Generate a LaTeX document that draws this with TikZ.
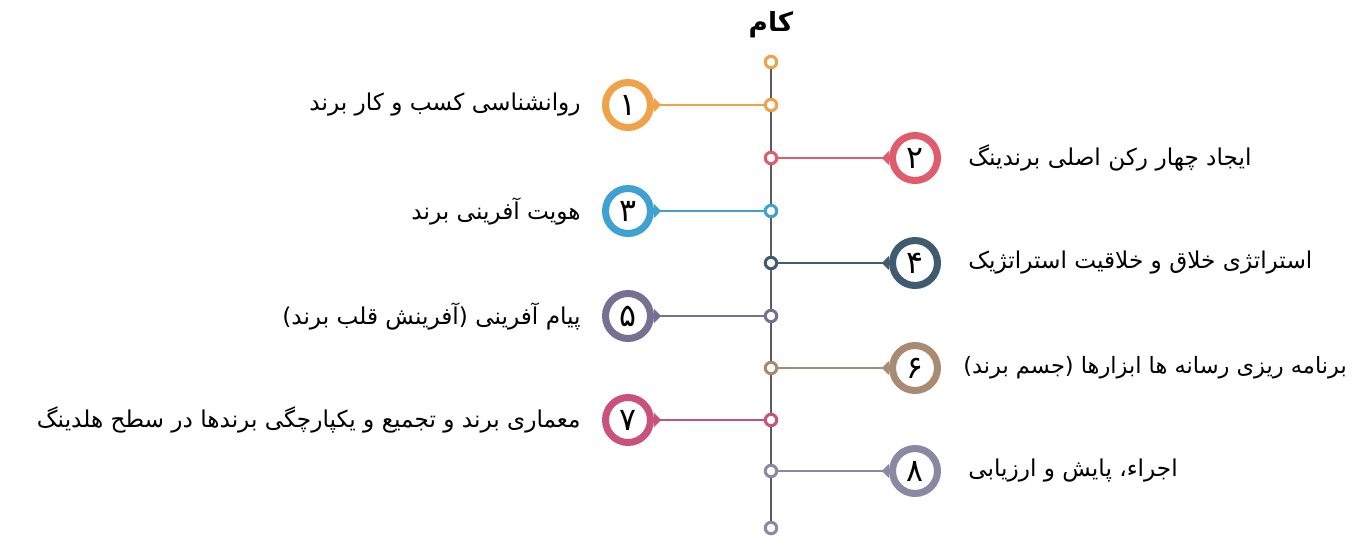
\documentclass[tikz,border=0pt]{standalone}
\usepackage{fontspec}
\newfontfamily\arabicfont[Script=Arabic]{DejaVu Sans}
\TeXXeTstate=1
\usetikzlibrary{arrows.meta,positioning}

\definecolor{corange}{HTML}{EFA24A}
\definecolor{cred}{HTML}{E05C6C}
\definecolor{cblue}{HTML}{3DA2D2}
\definecolor{cslate}{HTML}{405A70}
\definecolor{cpurple}{HTML}{787092}
\definecolor{cbrown}{HTML}{A88B72}
\definecolor{cpink}{HTML}{C9517D}
\definecolor{cgrey}{HTML}{8A88A2}
\definecolor{cspine}{HTML}{5A5A62}

\begin{document}
\begin{tikzpicture}[x=0.02cm,y=-0.02cm,
  dot/.style={circle,draw,line width=1.7pt,fill=white,inner sep=0pt,minimum size=0.23cm},
  num/.style={circle,draw,line width=4pt,fill=white,inner sep=0pt,minimum size=0.9cm,font=\arabicfont\fontsize{18}{20}\selectfont},
  lbl/.style={font=\arabicfont\fontsize{13.2}{15}\selectfont,inner sep=0pt},
  spine/.style={line width=1.2pt,draw=cspine},
  link/.style={line width=1.2pt,{Triangle[reversed,width=8pt,length=4pt]}-}]
  \useasboundingbox (0,0) rectangle (1360,538);

  \node[lbl,font=\arabicfont\bfseries\fontsize{15}{17}\selectfont] (title) at (771,25) {\beginR کام\endR};

  % dots on the spine
  \node[dot,draw=corange] (top) at (771,62)  {};
  \node[dot,draw=corange] (d1)  at (771,105) {};
  \node[dot,draw=cred]    (d2)  at (771,158) {};
  \node[dot,draw=cblue]   (d3)  at (771,211) {};
  \node[dot,draw=cslate]  (d4)  at (771,263) {};
  \node[dot,draw=cpurple] (d5)  at (771,316) {};
  \node[dot,draw=cbrown]  (d6)  at (771,368) {};
  \node[dot,draw=cpink]   (d7)  at (771,420) {};
  \node[dot,draw=cgrey]   (d8)  at (771,471) {};
  \node[dot,draw=cgrey]   (bot) at (771,528) {};

  % numbered circles
  \node[num,draw=corange] (n1) at (628,105) {\beginR ۱\endR};
  \node[num,draw=cred]    (n2) at (915,158) {\beginR ۲\endR};
  \node[num,draw=cblue]   (n3) at (628,211) {\beginR ۳\endR};
  \node[num,draw=cslate]  (n4) at (915,263) {\beginR ۴\endR};
  \node[num,draw=cpurple] (n5) at (628,316) {\beginR ۵\endR};
  \node[num,draw=cbrown]  (n6) at (915,368) {\beginR ۶\endR};
  \node[num,draw=cpink]   (n7) at (628,420) {\beginR ۷\endR};
  \node[num,draw=cgrey]   (n8) at (915,471) {\beginR ۸\endR};

  % labels
  \node[lbl,anchor=east] (t1) at (581,105) {\beginR روانشناسی کسب و کار برند\endR};
  \node[lbl,anchor=west] (t2) at (968,158) {\beginR ایجاد چهار رکن اصلی برندینگ\endR};
  \node[lbl,anchor=east] (t3) at (581,211) {\beginR هویت آفرینی برند\endR};
  \node[lbl,anchor=west] (t4) at (968,263) {\beginR استراتژی خلاق و خلاقیت استراتژیک\endR};
  \node[lbl,anchor=east] (t5) at (581,316) {\beginR پیام آفرینی (آفرینش قلب برند)\endR};
  \node[lbl,anchor=west,font=\arabicfont\fontsize{12.8}{15}\selectfont] (t6) at (963,368) {\beginR برنامه ریزی رسانه ها ابزارها (جسم برند)\endR};
  \node[lbl,anchor=east] (t7) at (581,420) {\beginR معماری برند و تجمیع و یکپارچگی برندها در سطح هلدینگ\endR};
  \node[lbl,anchor=west] (t8) at (968,471) {\beginR اجراء، پایش و ارزیابی\endR};

  \path[spine] (top) edge (d1) (d1) edge (d2) (d2) edge (d3) (d3) edge (d4)
               (d4) edge (d5) (d5) edge (d6) (d6) edge (d7) (d7) edge (d8) (d8) edge (bot);

  \path (n1) edge [link,draw=corange,fill=corange] (d1);
  \path (n2) edge [link,draw=cred,fill=cred]       (d2);
  \path (n3) edge [link,draw=cblue,fill=cblue]     (d3);
  \path (n4) edge [link,draw=cslate,fill=cslate]   (d4);
  \path (n5) edge [link,draw=cpurple,fill=cpurple] (d5);
  \path (n6) edge [link,draw=cbrown,fill=cbrown]   (d6);
  \path (n7) edge [link,draw=cpink,fill=cpink]     (d7);
  \path (n8) edge [link,draw=cgrey,fill=cgrey]     (d8);
\end{tikzpicture}
\end{document}
